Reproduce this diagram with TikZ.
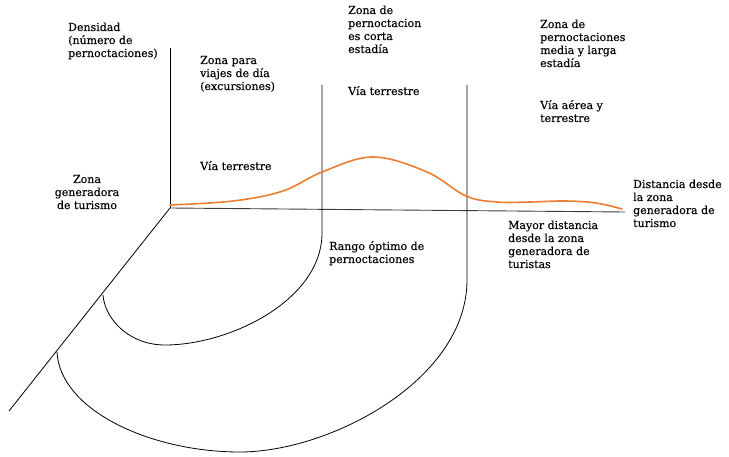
\documentclass[tikz,border=0pt]{standalone}
\usepackage{fontspec}
\setmainfont{DejaVu Serif}
\newfontfamily\lblfont{DejaVu Serif}[UprightFeatures={FakeBold=0.3}]
\definecolor{curveorange}{RGB}{237,125,49}
\definecolor{axisgray}{RGB}{60,60,60}
\begin{document}
\begin{tikzpicture}[x=1pt,y=-1pt,
  lbl/.style={inner sep=0pt, align=left, anchor=base west, font=\lblfont\fontsize{11}{13}\selectfont},
  clbl/.style={lbl, align=center, anchor=base},
  thinline/.style={draw=black, line width=0.8pt},
  curve/.style={draw=curveorange, line width=1.6pt, line cap=round}]
\useasboundingbox (0,0) rectangle (729,457);

% key points
\coordinate (O) at (170,208);
\coordinate (ytop) at (170,48);
\coordinate (xend) at (625,212);
\coordinate (dend) at (9,411);
\coordinate (v1top) at (322,85);
\coordinate (v1bot) at (322,233);
\coordinate (v1low) at (165,345);
\coordinate (v1end) at (103,295);
\coordinate (v2top) at (467,85);
\coordinate (v2bot) at (467,280);
\coordinate (v2low) at (240,452);
\coordinate (v2end) at (57,352);

% axes
\draw[thinline] (ytop) -- (O);
\draw[draw=axisgray, line width=0.9pt] (O) -- (xend);
\draw[thinline] (O) -- (dend);

% inner zone boundary
\draw[thinline] (v1top) -- (v1bot)
  .. controls (322,300) and (230,345) .. (v1low)
  .. controls (130,345) and (105,320) .. (v1end);

% outer zone boundary
\draw[thinline] (v2top) -- (v2bot)
  .. controls (467,380) and (330,452) .. (v2low)
  .. controls (150,452) and (60,410) .. (v2end);

% density curve
\draw[curve] plot[smooth, tension=0.6] coordinates {(170,205) (233,201) (283,191) (322,172) (373,157) (427,172) (466,196) (497,202) (530,202) (565,201) (596,203) (622,209)};

% labels (anchored at the baseline of the last line)
\node[lbl] (dens) at (68,57) {Densidad\\(número de\\pernoctaciones)};
\node[lbl] (zdia) at (200,90) {Zona para\\viajes de día\\(excursiones)};
\node[lbl] (vt1) at (200,170) {Vía terrestre};
\node[clbl] (zgen) at (87,209) {Zona\\generadora\\de turismo};
\node[lbl] (zcorta) at (348,53) {Zona de\\pernoctacion\\es corta\\estadía};
\node[lbl] (vt2) at (348,95) {Vía terrestre};
\node[lbl] (zlarga) at (540,67) {Zona de\\pernoctaciones\\media y larga\\estadía};
\node[lbl] (vaerea) at (540,122) {Vía aérea y\\terrestre};
\node[lbl] (dist) at (633,227) {Distancia desde\\la zona\\generadora de\\turismo};
\node[lbl] (mayor) at (508,268) {Mayor distancia\\desde la zona\\generadora de\\turistas};
\node[lbl] (rango) at (329,263) {Rango óptimo de\\pernoctaciones};
\end{tikzpicture}
\end{document}
